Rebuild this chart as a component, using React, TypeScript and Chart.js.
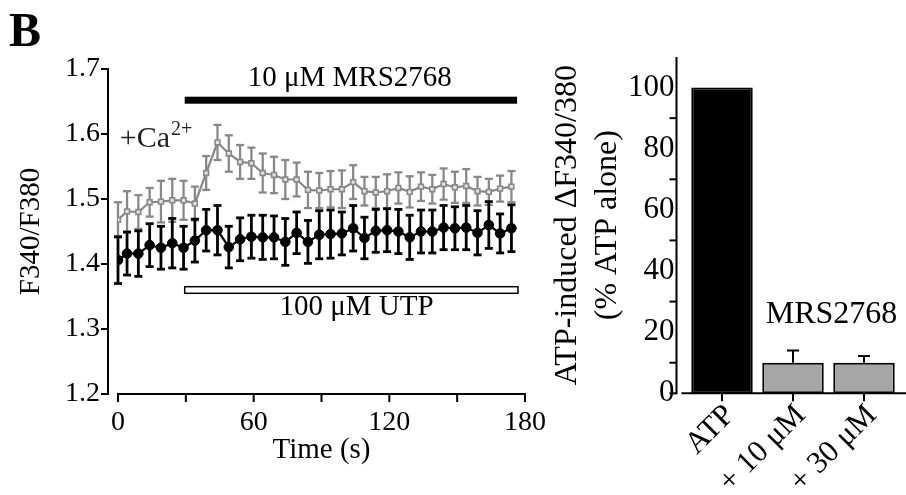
import { useEffect, useRef } from 'react';
import { Chart, registerables } from 'chart.js';

Chart.register(...registerables);

const SERIF = '"Liberation Serif", "Times New Roman", Times, serif';

// ---------- Left panel: Ca2+ time course ----------
const TIME_S = [0, 4, 9, 14, 19, 24, 29, 34, 39, 44, 49, 54, 59, 64, 69, 74, 79, 84, 89, 94, 99, 104, 109, 114, 119, 124, 129, 134, 139, 144, 149, 154, 159, 164, 169, 174];
const CA_MEAN = [1.468, 1.481, 1.48, 1.495, 1.496, 1.498, 1.498, 1.493, 1.54, 1.587, 1.57, 1.557, 1.555, 1.54, 1.537, 1.53, 1.53, 1.514, 1.513, 1.515, 1.515, 1.526, 1.512, 1.51, 1.512, 1.517, 1.511, 1.519, 1.515, 1.523, 1.518, 1.52, 1.512, 1.511, 1.516, 1.519];
const CA_ERR = [0.027, 0.031, 0.026, 0.022, 0.032, 0.033, 0.03, 0.026, 0.026, 0.027, 0.028, 0.026, 0.024, 0.03, 0.028, 0.03, 0.026, 0.028, 0.027, 0.028, 0.029, 0.026, 0.022, 0.024, 0.026, 0.024, 0.024, 0.022, 0.022, 0.024, 0.024, 0.026, 0.022, 0.02, 0.02, 0.024];
const BASE_MEAN = [1.406, 1.416, 1.416, 1.429, 1.425, 1.432, 1.425, 1.436, 1.452, 1.452, 1.426, 1.438, 1.442, 1.441, 1.441, 1.434, 1.448, 1.434, 1.445, 1.446, 1.447, 1.455, 1.44, 1.451, 1.452, 1.45, 1.441, 1.45, 1.45, 1.456, 1.455, 1.456, 1.448, 1.46, 1.447, 1.455];
const BASE_ERR = [0.036, 0.033, 0.035, 0.033, 0.033, 0.038, 0.033, 0.033, 0.032, 0.038, 0.032, 0.033, 0.033, 0.034, 0.033, 0.036, 0.032, 0.033, 0.037, 0.037, 0.033, 0.035, 0.032, 0.033, 0.033, 0.034, 0.034, 0.033, 0.033, 0.034, 0.033, 0.034, 0.034, 0.036, 0.03, 0.036];

const X_MIN = 0;
const X_MAX = 180;
const X_TICK_STEP = 30;
const X_LABEL_STEP = 60;
const Y_MIN = 1.2;
const Y_MAX = 1.7;
const Y_TICK_STEP = 0.1;

const MRS_LABEL = '10 μM MRS2768';
const MRS_SPAN = [29.5, 176.5];
const UTP_LABEL = '100 μM UTP';
const UTP_SPAN = [29.5, 176.9];

// ---------- Right panel: bar summary ----------
const BAR_CATEGORIES = ['ATP', '+ 10 μM', '+ 30 μM'];
const BAR_VALUES = [100, 10, 10];
const BAR_ERR = [0, 4, 2.2];
const BAR_COLORS = ['#000000', '#a6a6a6', '#a6a6a6'];
const BAR_Y_MAX = 110;
const BAR_Y_STEP = 10;
const BAR_LABEL_STEP = 20;
const BAR_GROUP_LABEL = 'MRS2768';

function line(ctx: CanvasRenderingContext2D, x1: number, y1: number, x2: number, y2: number) {
  ctx.beginPath();
  ctx.moveTo(x1, y1);
  ctx.lineTo(x2, y2);
  ctx.stroke();
}

export default function App() {
  const leftRef = useRef<HTMLCanvasElement>(null);
  const rightRef = useRef<HTMLCanvasElement>(null);

  useEffect(() => {
    const errs: Record<number, { err: number[]; color: string; lw: number; cap: number }> = {
      0: { err: BASE_ERR, color: '#000000', lw: 2.8, cap: 4 },
      1: { err: CA_ERR, color: '#888888', lw: 2.3, cap: 4 },
    };

    const leftPlugin = {
      id: 'leftDecor',
      beforeDatasetDraw(chart: any, args: any) {
        const spec = errs[args.index];
        if (!spec) return;
        const { ctx } = chart;
        const y = chart.scales.y;
        const ds = chart.data.datasets[args.index];
        ctx.save();
        ctx.strokeStyle = spec.color;
        ctx.lineWidth = spec.lw;
        args.meta.data.forEach((pt: any, i: number) => {
          const v = ds.data[i].y;
          const e = spec.err[i];
          const top = y.getPixelForValue(v + e);
          const bot = y.getPixelForValue(v - e);
          line(ctx, pt.x, top, pt.x, bot);
          line(ctx, pt.x - spec.cap, top, pt.x + spec.cap, top);
          line(ctx, pt.x - spec.cap, bot, pt.x + spec.cap, bot);
        });
        ctx.restore();
      },
      afterDatasetsDraw(chart: any) {
        const { ctx, chartArea: ca } = chart;
        const x = chart.scales.x;
        const y = chart.scales.y;
        ctx.save();
        ctx.strokeStyle = '#000';
        ctx.fillStyle = '#000';
        ctx.lineWidth = 2;
        // y axis (detached)
        const ax = ca.left - 10;
        line(ctx, ax, y.getPixelForValue(Y_MAX) - 1, ax, y.getPixelForValue(Y_MIN) + 1);
        y.ticks.forEach((t: any) => {
          const py = y.getPixelForValue(t.value);
          line(ctx, ax - 7, py, ax, py);
        });
        // x axis
        const by = ca.bottom;
        line(ctx, x.getPixelForValue(X_MIN) - 1, by, x.getPixelForValue(X_MAX) + 1, by);
        x.ticks.forEach((t: any) => {
          const px = x.getPixelForValue(t.value);
          line(ctx, px, by, px, by + 8);
        });
        // MRS2768 bar
        const m1 = x.getPixelForValue(MRS_SPAN[0]);
        const m2 = x.getPixelForValue(MRS_SPAN[1]);
        const my = y.getPixelForValue(1.652);
        ctx.fillRect(m1, my - 3.5, m2 - m1, 7);
        ctx.font = `29px ${SERIF}`;
        ctx.textAlign = 'center';
        ctx.textBaseline = 'alphabetic';
        ctx.fillText(MRS_LABEL, x.getPixelForValue(102.5), y.getPixelForValue(1.674));
        // UTP bar (open)
        const u1 = x.getPixelForValue(UTP_SPAN[0]);
        const u2 = x.getPixelForValue(UTP_SPAN[1]);
        const uy = y.getPixelForValue(1.36);
        ctx.fillStyle = '#fff';
        ctx.fillRect(u1, uy - 3.3, u2 - u1, 6.6);
        ctx.lineWidth = 1.5;
        ctx.strokeRect(u1, uy - 3.3, u2 - u1, 6.6);
        ctx.fillStyle = '#000';
        ctx.fillText(UTP_LABEL, x.getPixelForValue(105.5), y.getPixelForValue(1.3215));
        // +Ca2+
        ctx.textAlign = 'left';
        ctx.fillStyle = '#222';
        const cx = x.getPixelForValue(0.8);
        const cy = y.getPixelForValue(1.58);
        ctx.font = `30px ${SERIF}`;
        ctx.fillText('+Ca', cx, cy);
        const w = ctx.measureText('+Ca').width;
        ctx.font = `20px ${SERIF}`;
        ctx.fillText('2+', cx + w + 1, cy - 12);
        // panel letter
        ctx.fillStyle = '#000';
        ctx.font = `bold 48px ${SERIF}`;
        ctx.fillText('B', 9, 46);
        ctx.restore();
      },
    };

    const left = new Chart(leftRef.current!, {
      type: 'line',
      data: {
        datasets: [
          {
            label: 'control',
            data: TIME_S.map((t, i) => ({ x: t, y: BASE_MEAN[i] })),
            borderColor: '#000',
            borderWidth: 2.2,
            pointStyle: 'circle',
            pointRadius: 4.8,
            pointBackgroundColor: '#000',
            pointBorderColor: '#000',
            pointBorderWidth: 1,
            tension: 0,
          },
          {
            label: '+Ca2+',
            data: TIME_S.map((t, i) => ({ x: t, y: CA_MEAN[i] })),
            borderColor: '#888888',
            borderWidth: 2.2,
            pointStyle: 'rect',
            pointRadius: 3.4,
            pointBackgroundColor: '#e2e2e2',
            pointBorderColor: '#888888',
            pointBorderWidth: 1.6,
            tension: 0,
          },
        ],
      },
      options: {
        animation: false,
        responsive: false,
        devicePixelRatio: 1,
        layout: { padding: { left: 0, top: 69, right: 35, bottom: 0 } },
        plugins: { legend: { display: false }, tooltip: { enabled: false } },
        scales: {
          x: {
            type: 'linear',
            min: X_MIN,
            max: X_MAX,
            grid: { display: false, drawTicks: false },
            border: { display: false },
            ticks: {
              stepSize: X_TICK_STEP,
              autoSkip: false,
              maxRotation: 0,
              padding: 12,
              color: '#000',
              font: { family: SERIF, size: 28 },
              callback: (v: any) => (Number(v) % X_LABEL_STEP === 0 ? String(v) : ''),
            },
            title: {
              display: true,
              text: 'Time (s)',
              color: '#000',
              font: { family: SERIF, size: 29 },
              padding: { top: 0, bottom: 27 },
            },
            afterFit: (s: any) => {
              s.height = 101;
            },
          },
          y: {
            min: Y_MIN,
            max: Y_MAX,
            grid: { display: false, drawTicks: false },
            border: { display: false },
            ticks: {
              stepSize: Y_TICK_STEP,
              autoSkip: false,
              padding: 18,
              color: '#000',
              font: { family: SERIF, size: 28 },
              callback: (v: any) => Number(v).toFixed(1),
            },
            title: {
              display: true,
              text: 'F340/F380',
              color: '#000',
              font: { family: SERIF, size: 29 },
              padding: { top: 14, bottom: 0 },
            },
            afterFit: (s: any) => {
              s.width = 118;
            },
          },
        },
      },
      plugins: [leftPlugin],
    } as any);

    const rightPlugin = {
      id: 'rightDecor',
      afterDatasetsDraw(chart: any) {
        const { ctx, chartArea: ca } = chart;
        const x = chart.scales.x;
        const y = chart.scales.y;
        ctx.save();
        ctx.strokeStyle = '#000';
        ctx.fillStyle = '#000';
        ctx.lineWidth = 2;
        // error bars (upper only)
        const meta = chart.getDatasetMeta(0);
        meta.data.forEach((bar: any, i: number) => {
          const e = BAR_ERR[i];
          if (!e) return;
          const top = y.getPixelForValue(BAR_VALUES[i] + e);
          line(ctx, bar.x, bar.y, bar.x, top);
          line(ctx, bar.x - 6, top, bar.x + 6, top);
        });
        // y axis
        const ax = ca.left - 10;
        line(ctx, ax, y.getPixelForValue(BAR_Y_MAX), ax, y.getPixelForValue(0) + 1);
        y.ticks.forEach((t: any) => {
          const v = Math.round(t.value);
          if (v > 100) return;
          if (v !== 0 && v % BAR_LABEL_STEP === 0) return;
          const py = y.getPixelForValue(v);
          line(ctx, ax - 7, py, ax, py);
        });
        // x axis
        const by = ca.bottom;
        line(ctx, ca.left - 5, by, ca.right + 8, by);
        BAR_CATEGORIES.forEach((_, i) => {
          const px = x.getPixelForValue(i);
          line(ctx, px, by, px, by + 8);
        });
        // group label
        ctx.font = `32px ${SERIF}`;
        ctx.textAlign = 'center';
        ctx.textBaseline = 'alphabetic';
        const gx = (x.getPixelForValue(1) + x.getPixelForValue(2)) / 2 + 3;
        ctx.fillText(BAR_GROUP_LABEL, gx, y.getPixelForValue(23));
        ctx.restore();
      },
    };

    const right = new Chart(rightRef.current!, {
      type: 'bar',
      data: {
        labels: BAR_CATEGORIES,
        datasets: [
          {
            data: BAR_VALUES,
            backgroundColor: BAR_COLORS,
            borderColor: '#000',
            borderWidth: 2,
            borderSkipped: false,
            barPercentage: 0.866,
            categoryPercentage: 1,
          },
        ],
      },
      options: {
        animation: false,
        responsive: false,
        devicePixelRatio: 1,
        layout: { padding: { left: 0, top: 57, right: 6.5, bottom: 0 } },
        plugins: { legend: { display: false }, tooltip: { enabled: false } },
        scales: {
          x: {
            grid: { display: false, drawTicks: false },
            border: { display: false },
            ticks: {
              minRotation: 45,
              maxRotation: 45,
              padding: 4,
              labelOffset: 8,
              color: '#000',
              font: { family: SERIF, size: 31 },
            },
            afterFit: (s: any) => {
              s.height = 101.7;
            },
          },
          y: {
            min: 0,
            max: BAR_Y_MAX,
            grid: { display: false, drawTicks: false },
            border: { display: false },
            ticks: {
              stepSize: BAR_Y_STEP,
              autoSkip: false,
              padding: 12,
              color: '#000',
              font: { family: SERIF, size: 31 },
              callback: (v: any) => {
                const n = Math.round(Number(v));
                return n <= 100 && n % BAR_LABEL_STEP === 0 ? String(n) : '';
              },
            },
            title: {
              display: true,
              text: ['ATP-induced ΔF340/380', '(% ATP alone)'],
              color: '#000',
              font: { family: SERIF, size: 32, lineHeight: 1.25 },
              padding: { top: 8, bottom: 0 },
            },
            afterFit: (s: any) => {
              s.width = 146.5;
            },
          },
        },
      },
      plugins: [rightPlugin],
    } as any);

    return () => {
      left.destroy();
      right.destroy();
    };
  }, []);

  return (
    <div style={{ position: 'fixed', left: 0, top: 0, width: 906, height: 495, background: '#fff', overflow: 'hidden' }}>
      <canvas ref={leftRef} width={560} height={495} style={{ position: 'absolute', left: 0, top: 0, width: 560, height: 495 }} />
      <canvas ref={rightRef} width={366} height={495} style={{ position: 'absolute', left: 540, top: 0, width: 366, height: 495 }} />
    </div>
  );
}
